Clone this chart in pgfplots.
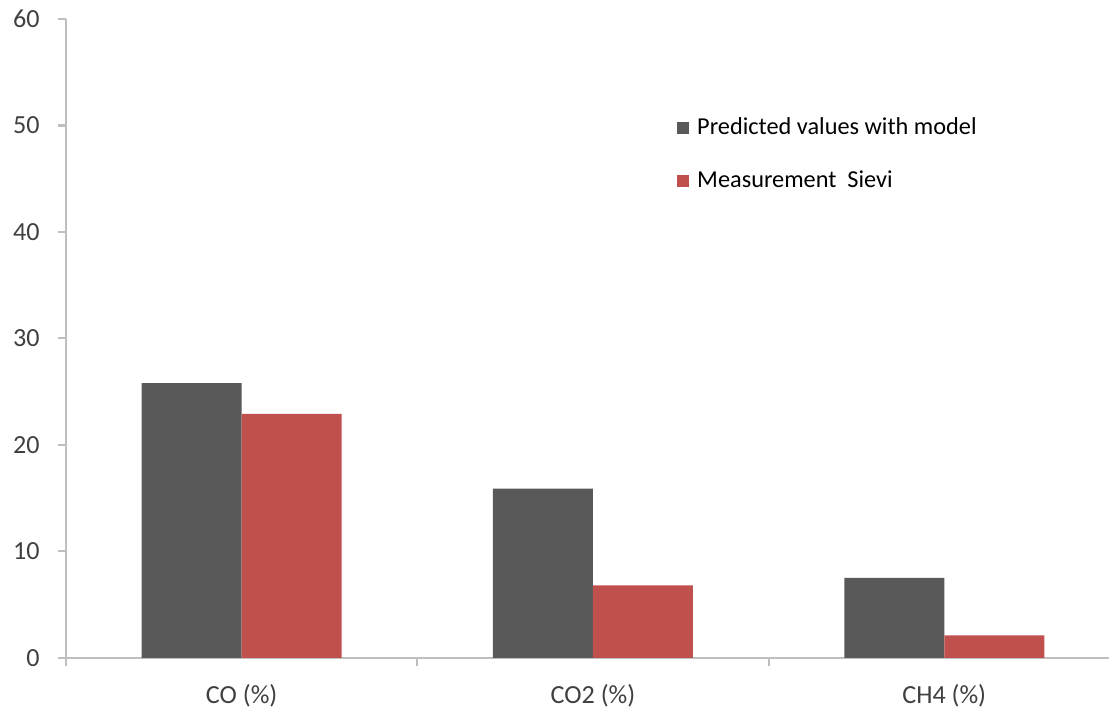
\documentclass[border=0pt]{standalone}
\usepackage{fontspec}
\setmainfont{Carlito}
\usepackage{pgfplots}
\pgfplotsset{compat=1.18}
\definecolor{barGrey}{HTML}{595959}
\definecolor{barRed}{HTML}{C0504D}
\definecolor{axGrey}{HTML}{BFBFBF}
\definecolor{lblGrey}{HTML}{404040}
\begin{document}
\begin{tikzpicture}
\begin{axis}[
  scale only axis, width=375.5pt, height=230pt,
  xmin=-0.5, xmax=2.469, ymin=0, ymax=60,
  axis x line*=bottom, axis y line*=left,
  axis line style={axGrey, line width=0.8pt},
  ybar=0pt, bar width=36pt,
  xtick={0,1,2}, xticklabels={CO (\%), CO2 (\%), CH4 (\%)},
  major x tick style={draw=none},
  minor xtick={-0.5,0.5,1.5},
  minor x tick style={axGrey, line width=0.8pt},
  minor tick length=3pt,
  ytick={0,10,...,60},
  major tick length=3pt,
  y tick style={axGrey, line width=0.8pt},
  tick align=outside,
  ticklabel style={font=\fontsize{9.4}{11}\selectfont, text=lblGrey},
  /pgf/number format/assume math mode=true,
  yticklabel style={xshift=-3pt},
  xticklabel style={yshift=-3pt},
  legend image code/.code={\fill[#1,draw=none] (0pt,-2.15pt) rectangle (4.3pt,2.15pt);},
  legend style={draw=none, fill=none, inner sep=0pt,
    at={(rel axis cs:0.5855,0.853)}, anchor=north west,
    font=\fontsize{8.75}{10}\selectfont,
    nodes={inner xsep=1.6pt, inner ysep=1.5pt}, row sep=8.6pt},
  legend cell align=left,
]
\addplot[fill=barGrey, draw=none] coordinates {(0,25.8) (1,15.9) (2,7.5)};
\addplot[fill=barRed, draw=none] coordinates {(0,22.9) (1,6.8) (2,2.1)};
\legend{\hspace{1.3pt}Predicted values with model, \hspace{1.3pt}Measurement\ \ Sievi}
\coordinate (bbA) at (rel axis cs:-0.0633,-0.0782);
\coordinate (bbB) at (rel axis cs:1.0,1.0297);
\end{axis}
\pgfresetboundingbox
\path[use as bounding box] (bbA) rectangle (bbB);
\end{tikzpicture}
\end{document}
